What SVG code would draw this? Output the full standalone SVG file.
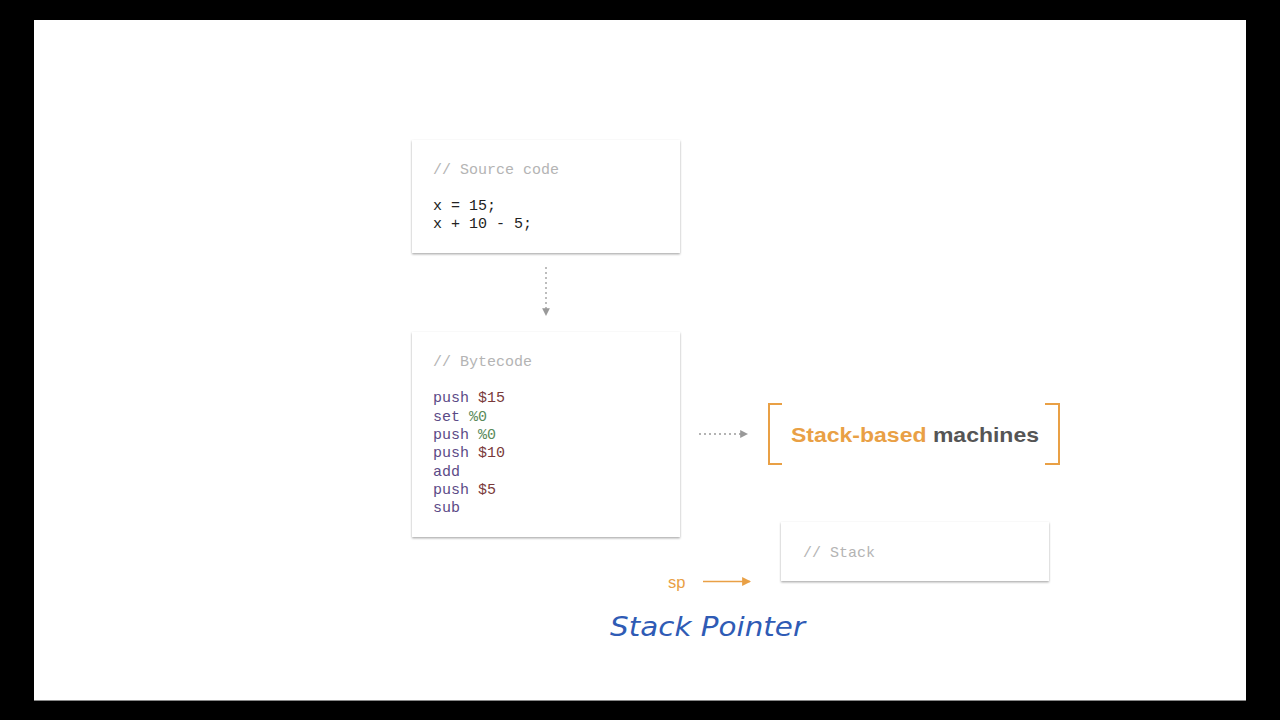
<svg xmlns="http://www.w3.org/2000/svg" width="1280" height="720" viewBox="0 0 1280 720">
  <defs>
    <filter id="card-shadow" x="-5%" y="-10%" width="110%" height="125%">
      <feDropShadow dx="0" dy="1.2" stdDeviation="1" flood-color="#000" flood-opacity="0.35"/>
    </filter>
    <marker id="arrow-gray" viewBox="0 0 8 8" refX="7" refY="4" markerWidth="6" markerHeight="6" orient="auto">
      <path d="M0,0 L8,4 L0,8 Z" fill="#999"/>
    </marker>
    <marker id="arrow-orange" viewBox="0 0 8 8" refX="7" refY="4" markerWidth="6" markerHeight="6" orient="auto">
      <path d="M0,0 L8,4 L0,8 Z" fill="#e9a045"/>
    </marker>
  </defs>
  <style>
    .card { fill: #ffffff; filter: url(#card-shadow); }
    .mono { font-family: "Liberation Mono", "DejaVu Sans Mono", monospace; font-size: 15px; }
    .comment { fill: #b4b4b4; }
    .plain { fill: #222; }
    .kw { fill: #5b4a86; }
    .num { fill: #7a3a3a; }
    .reg { fill: #5a8a5a; }
    .dotted { stroke: #9a9a9a; stroke-width: 1.3; stroke-dasharray: 2 3; fill: none; }
    .bracket { stroke: #e9a045; stroke-width: 2; fill: none; }
  </style>

  <!-- frame -->
  <rect x="0" y="0" width="1280" height="720" fill="#000"/>
  <rect x="34" y="20" width="1212" height="680" fill="#fff"/>
  <line x1="34" y1="700.5" x2="1246" y2="700.5" stroke="#888" stroke-width="1"/>

  <!-- source code card -->
  <g id="source">
    <rect class="card" x="412" y="140" width="268" height="113"/>
    <text class="mono comment" x="433" y="174">// Source code</text>
    <text class="mono plain" x="433" y="210">x = 15;</text>
    <text class="mono plain" x="433" y="228">x + 10 - 5;</text>
  </g>

  <!-- bytecode card -->
  <g id="bytecode">
    <rect class="card" x="412" y="332" width="268" height="205"/>
    <text class="mono comment" x="433" y="366">// Bytecode</text>
    <text class="mono" x="433" y="402"><tspan class="kw">push</tspan> <tspan class="num">$15</tspan></text>
    <text class="mono" x="433" y="420.5"><tspan class="kw">set</tspan> <tspan class="reg">%0</tspan></text>
    <text class="mono" x="433" y="439"><tspan class="kw">push</tspan> <tspan class="reg">%0</tspan></text>
    <text class="mono" x="433" y="457"><tspan class="kw">push</tspan> <tspan class="num">$10</tspan></text>
    <text class="mono kw" x="433" y="475.5">add</text>
    <text class="mono" x="433" y="494"><tspan class="kw">push</tspan> <tspan class="num">$5</tspan></text>
    <text class="mono kw" x="433" y="512">sub</text>
  </g>

  <!-- title in brackets -->
  <g id="title">
    <path class="bracket" d="M782,404 H769 V464 H782"/>
    <path class="bracket" d="M1045,404 H1059 V464 H1045"/>
    <text x="791" y="442" font-family="Liberation Sans, Arial, sans-serif" font-size="21" font-weight="bold" textLength="248" lengthAdjust="spacingAndGlyphs"><tspan fill="#e9a045">Stack-based</tspan> <tspan fill="#555">machines</tspan></text>
  </g>

  <!-- stack card -->
  <g id="stack">
    <rect class="card" x="781" y="522" width="268" height="59"/>
    <text class="mono comment" x="803" y="557">// Stack</text>
  </g>

  <!-- stack pointer label -->
  <g id="sp">
    <text x="668" y="588" font-family="Liberation Sans, Arial, sans-serif" font-size="16.5" fill="#e9a045">sp</text>
  </g>

  <!-- handwritten note -->
  <g id="note">
    <text x="610" y="636" font-family="DejaVu Sans, sans-serif" font-style="italic" font-size="27" fill="#2f5bb5" textLength="195" lengthAdjust="spacingAndGlyphs">Stack Pointer</text>
  </g>

  <!-- connectors -->
  <g id="connectors">
    <line class="dotted" x1="546" y1="267" x2="546" y2="315" marker-end="url(#arrow-gray)"/>
    <line class="dotted" x1="699" y1="434" x2="747" y2="434" marker-end="url(#arrow-gray)"/>
    <line x1="703" y1="581.5" x2="750" y2="581.5" stroke="#e9a045" stroke-width="1.5" marker-end="url(#arrow-orange)"/>
  </g>
</svg>
